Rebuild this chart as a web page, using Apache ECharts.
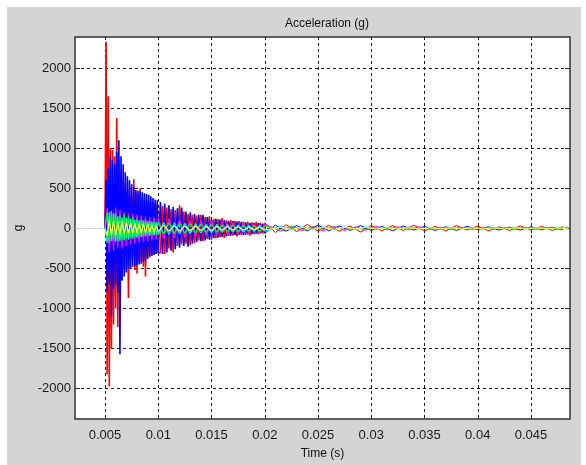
<!DOCTYPE html>
<html><head><meta charset="utf-8">
<script src="https://cdn.jsdelivr.net/npm/echarts@6/dist/echarts.min.js"></script>
<style>html,body{margin:0;padding:0;background:#fff}#c{width:586px;height:465px}</style>
</head><body><div id="c"></div>
<script>
const xTicks = [0.005, 0.01, 0.015, 0.02, 0.025, 0.03, 0.035, 0.04, 0.045];
const yTicks = [-2000, -1500, -1000, -500, 0, 500, 1000, 1500, 2000];

// main sampling times (s)
const time = [
 0.0050,0.0051,0.0052,0.0053,0.0054,0.0055,0.0056,0.0057,0.0058,0.0059,
 0.0060,0.0061,0.0062,0.0063,0.0064,0.0065,0.0066,0.0067,0.0068,0.0069,
 0.0070,0.0071,0.0072,0.0073,0.0074,0.0075,0.0076,0.0077,0.0078,0.0079,
 0.0080,0.0081,0.0082,0.0083,0.0084,0.0085,0.0086,0.0087,0.0088,0.0089,
 0.0090,0.0091,0.0092,0.0093,0.0094,0.0095,0.0096,0.0097,0.0098,0.0099,0.0100,
 0.0102,0.0104,0.0106,0.0108,0.0110,0.0112,0.0114,0.0116,0.0118,0.0120,
 0.0122,0.0124,0.0126,0.0128,0.0130,0.0132,0.0134,0.0136,0.0138,0.0140,
 0.0142,0.0144,0.0146,0.0148,0.0150,0.0152,0.0154,0.0156,0.0158,0.0160,
 0.0162,0.0164,0.0166,0.0168,0.0170,0.0172,0.0174,0.0176,0.0178,0.0180,
 0.0182,0.0184,0.0186,0.0188,0.0190,0.0192,0.0194,0.0196,0.0198,0.0200,
 0.021,0.022,0.023,0.024,0.025,0.026,0.027,0.028,0.029,0.030,
 0.031,0.032,0.033,0.034,0.035,0.036,0.037,0.038,0.039,0.040,
 0.041,0.042,0.043,0.044,0.045,0.046,0.047,0.048
];
const red = [
 0,2330,-1820,1650,-1975,1000,-1500,980,-1200,900,
 -1000,1380,-1230,850,-700,700,-650,600,-500,550,
 -480,450,-870,420,-400,380,-350,613,-520,450,
 -560,430,-420,500,-400,380,-480,360,-600,350,
 -380,340,-360,330,-340,320,-330,310,-320,300,-310,
 -300,280,-320,260,-250,240,-300,230,-220,290,
 -200,210,-190,180,-210,170,-180,160,-150,170,
 -160,140,-130,150,-140,120,-125,115,-110,130,
 -120,100,-95,105,-90,95,-100,90,-85,85,
 -80,80,-90,75,-70,80,-75,70,-65,65,
 -50,45,-40,50,-35,40,-35,30,-45,35,
 -30,35,-25,40,-30,25,-30,35,-20,30,
 -30,20,-25,30,-20,25,-25,20
];
const blue = [
 0,600,-800,750,-700,900,-1100,850,-750,800,
 -700,950,-800,1100,-1570,900,-650,800,-600,700,
 -550,650,-500,600,-500,550,-480,520,-470,480,
 -460,470,-450,460,-440,450,-420,440,-400,430,
 -380,420,-350,400,-340,380,-330,360,-320,350,-310,
 330,-320,310,-300,290,-280,270,-260,250,-240,
 260,-220,210,-230,200,-190,180,-170,170,-160,
 170,-150,140,-140,110,-120,120,-115,110,-105,
 100,-100,95,-90,90,-85,85,-80,80,-80,
 75,-75,70,-70,70,-65,65,-60,60,-60,
 40,-35,35,-30,40,-30,30,-25,35,-25,
 25,-30,30,-20,25,-25,20,-25,25,-15,
 20,-20,15,-20,20,-15,15,-15
];

// secondary sampling times (s) for the smaller channels
const timeMinor = [
 0.0050,0.0052,0.0054,0.0056,0.0058,0.0060,0.0062,0.0064,0.0066,0.0068,
 0.0070,0.0072,0.0074,0.0076,0.0078,0.0080,0.0082,0.0084,0.0086,0.0088,
 0.0090,0.0092,0.0094,0.0096,0.0098,0.0100,
 0.0105,0.0110,0.0115,0.0120,0.0125,0.0130,0.0135,0.0140,0.0145,0.0150,
 0.0155,0.0160,0.0165,0.0170,0.0175,0.0180,0.0185,0.0190,0.0195,0.0200,
 0.0215,0.0225,0.0235,0.0245,0.0255,0.0265,0.0275,0.0285,0.0295,0.0305,
 0.0315,0.0325,0.0335,0.0345,0.0355,0.0365,0.0375,0.0385,0.0395,0.0405,
 0.0415,0.0425,0.0435,0.0445,0.0455,0.0465,0.0475,0.0485
];
const magenta = [
 0,250,-300,220,-280,260,-240,230,-250,200,
 -220,190,-200,180,-190,170,-180,160,-170,150,
 -160,140,-150,140,-140,130,
 -130,120,-120,110,-110,100,-100,95,-90,85,
 -85,80,-75,70,-70,65,-60,60,-55,55,
 -35,30,-30,25,-30,25,-25,20,-20,25,
 -20,20,-15,20,-15,15,-15,15,-10,15,
 -10,10,-10,10,-10,10,-10,10
];
const cyan = [
 0,-180,200,-160,190,-170,150,-160,140,-150,
 130,-140,120,-130,110,-120,100,-110,100,-100,
 90,-95,85,-90,80,-80,
 75,-75,70,-70,65,-65,60,-60,55,-55,
 50,-50,50,-45,45,-45,40,-40,40,-35,
 25,-20,20,-20,20,-15,15,-15,20,-15,
 15,-10,15,-10,10,-10,10,-10,10,-10,
 10,-10,10,-5,10,-5,5,-5
];
const green = [
 0,200,-180,220,-150,190,-160,170,-140,180,
 -130,150,-120,140,-110,120,-100,110,-90,100,
 -85,90,-80,85,-75,80,
 -70,70,-65,65,-60,60,-55,55,-50,50,
 -45,45,-45,40,-40,40,-35,35,-35,30,
 -20,25,-20,20,-15,20,-15,15,-15,15,
 -10,15,-10,10,-10,10,-10,10,-10,10,
 -10,10,-5,10,-5,10,-5,5
];
const yellow = [
 0,-90,100,-80,90,-85,80,-75,85,-70,
 75,-65,70,-60,65,-55,60,-55,55,-50,
 50,-45,45,-45,40,-40,
 40,-35,35,-35,30,-30,30,-25,25,-25,
 25,-20,20,-20,20,-20,15,-15,15,-15,
 10,-10,10,-10,10,-10,10,-5,10,-5,
 5,-5,5,-5,5,-5,5,-5,5,-5,
 5,-5,5,-5,5,-5,5,-5
];
const baseTime = [0.00218, 0.0050];
const baseVal = [0, 0];

const X_MIN = 0.00218, X_MAX = 0.04866, Y_MIN = -2380, Y_MAX = 2390;
const MAIN_SPLIT = 100;   // index of t = 0.0200 in `time`
const MINOR_SPLIT = 45;   // index of t = 0.0200 in `timeMinor`

function pairs(ts, vs){ return ts.map((t,i)=>[t, vs[i]]); }
function sig(name, ts, vs, color, w){
  return {name, type:'line', data:pairs(ts,vs), showSymbol:false, symbol:'none',
    sampling:null, lineStyle:{color, width:w}, itemStyle:{color}, silent:true};
}
function channel(name, ts, vs, split, color, wHead, wTail){
  return [
    sig(name, ts.slice(0, split+1), vs.slice(0, split+1), color, wHead),
    sig(name+'-tail', ts.slice(split), vs.slice(split), color, wTail)
  ];
}
const font = 'Liberation Sans, Arial, Helvetica, sans-serif';
const gridLine = {show:true, lineStyle:{color:'#1a1a1a', type:[3,3], width:1}};

const chart = echarts.init(document.getElementById('c'), null, {renderer:'canvas'});
chart.setOption({
  animation:false,
  backgroundColor:'#ffffff',
  graphic:[{type:'rect', z:-100, silent:true, shape:{x:7,y:7,width:574,height:458}, style:{fill:'#d4d4d4'}}],
  title:{text:'Acceleration (g)', left:322, textAlign:'center', top:13,
    textStyle:{fontFamily:font, fontSize:12, fontWeight:'normal', color:'#111'}},
  grid:{left:75, right:16, top:37, bottom:40, show:true, backgroundColor:'#ffffff', borderColor:'#333', borderWidth:1.5},
  xAxis:[{
    type:'value', min:X_MIN, max:X_MAX,
    name:'Time (s)', nameLocation:'middle', nameGap:29,
    nameTextStyle:{fontFamily:font, fontSize:12, color:'#111'},
    axisLine:{show:false},
    axisTick:{show:true, inside:true, length:5, customValues:xTicks, lineStyle:{color:'#333'}},
    axisLabel:{customValues:xTicks, margin:10, fontFamily:font, fontSize:13, color:'#1a1a1a',
      formatter:v=>String(parseFloat(v.toFixed(4)))},
    splitLine:gridLine
  },{
    type:'value', position:'top', min:X_MIN, max:X_MAX,
    axisLine:{show:false}, axisLabel:{show:false}, splitLine:{show:false},
    axisTick:{show:true, inside:true, length:5, customValues:xTicks, lineStyle:{color:'#333'}}
  }],
  yAxis:[{
    type:'value', min:Y_MIN, max:Y_MAX,
    name:'g', nameLocation:'middle', nameGap:50, nameRotate:90,
    nameTextStyle:{fontFamily:font, fontSize:12, color:'#111'},
    axisLine:{show:false},
    axisTick:{show:true, inside:true, length:5, customValues:yTicks, lineStyle:{color:'#333'}},
    axisLabel:{customValues:yTicks, margin:4, fontFamily:font, fontSize:13, color:'#1a1a1a',
      formatter:v=>String(Math.round(v))},
    splitLine:gridLine
  },{
    type:'value', position:'right', min:Y_MIN, max:Y_MAX,
    axisLine:{show:false}, axisLabel:{show:false}, splitLine:{show:false},
    axisTick:{show:true, inside:true, length:5, customValues:yTicks, lineStyle:{color:'#333'}}
  }],
  series:[
    sig('base', baseTime, baseVal, '#dbe3ea', 1),
    ...channel('ch1', time, red, MAIN_SPLIT, '#ff0000', 1.6, 1),
    ...channel('ch2', time, blue, MAIN_SPLIT, '#0000ff', 1.6, 1),
    ...channel('ch3', timeMinor, magenta, MINOR_SPLIT, '#ff00ff', 1.3, 1),
    ...channel('ch4', timeMinor, cyan, MINOR_SPLIT, '#00e8e8', 1.3, 1),
    ...channel('ch5', timeMinor, green, MINOR_SPLIT, '#00ff00', 1.3, 1),
    ...channel('ch6', timeMinor, yellow, MINOR_SPLIT, '#ffff66', 1.2, 1)
  ]
});
</script></body></html>
